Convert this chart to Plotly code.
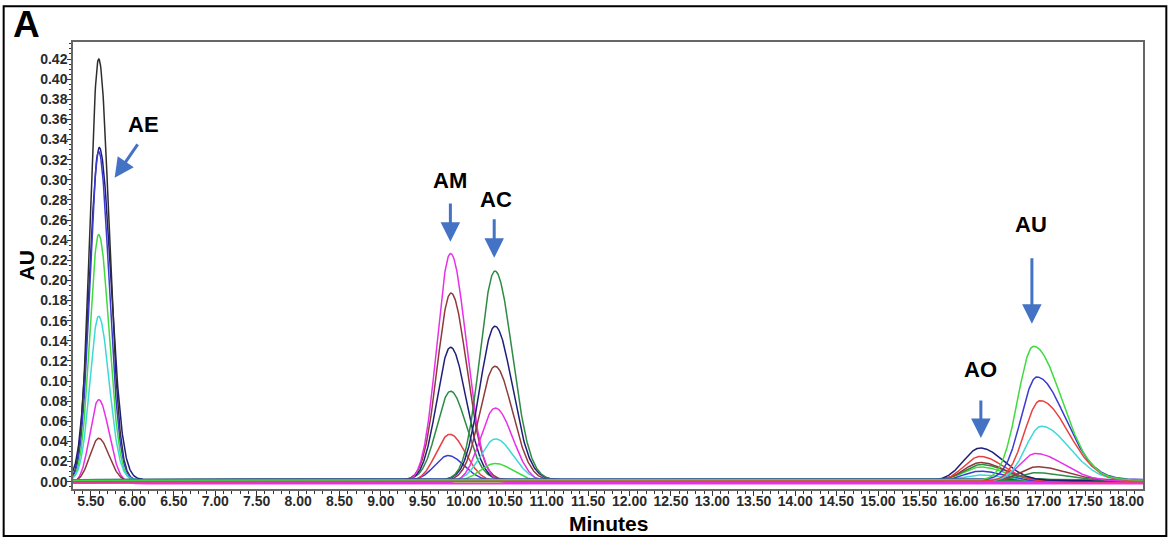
import numpy as np
import plotly.graph_objects as go

# ---- data ----
peak_names = ["AE", "AM", "AC", "AO", "AU"]
sigma_left = [0.105, 0.165, 0.18, 0.20, 0.19]
sigma_right = [0.125, 0.19, 0.21, 0.28, 0.34]

# one trace per injection: colour, peak retention time (min), peak height (AU), baseline (AU)
ae_colors = ["#1f1f7a", "#2e2e2e", "#3b3bd0", "#3fdb3f", "#3fd8d8", "#e830e8", "#8e3b3b"]
ae_rt = [5.60, 5.593, 5.593, 5.593, 5.593, 5.593, 5.593]
ae_heights = [0.330, 0.419, 0.3265, 0.245, 0.1625, 0.0835, 0.0431]
ae_base = [0.002, 0.001, 0.0015, 0.0005, 0.002, -0.002, 0.0]

am_colors = ["#3b3bd0", "#e84040", "#2e8b45", "#1f1f7a", "#8e3b3b", "#e830e8"]
am_rt = [9.812, 9.83, 9.84, 9.84, 9.845, 9.84]
am_heights = [0.0249, 0.0471, 0.0879, 0.1326, 0.186, 0.2277]
am_base = [0.001, 0.0, 0.002, 0.001, 0.0015, -0.001]

ac_colors = ["#3fdb3f", "#3fd8d8", "#e830e8", "#8e3b3b", "#1f1f7a", "#2e8b45"]
ac_rt = [10.38, 10.385, 10.38, 10.376, 10.376, 10.376]
ac_heights = [0.0176, 0.0415, 0.0746, 0.1137, 0.1525, 0.2078]
ac_base = [0.0005, 0.001, -0.0015, 0.001, 0.002, 0.0015]

ao_colors = ["#3fd8d8", "#3b3bd0", "#3fdb3f", "#2e8b45", "#8e3b3b", "#e84040", "#1f1f7a"]
ao_rt = [16.24, 16.23, 16.24, 16.25, 16.24, 16.233, 16.233]
ao_heights = [0.0057, 0.010, 0.013, 0.015, 0.018, 0.025, 0.0325]
ao_base = [0.001, 0.0005, 0.0015, 0.002, 0.001, 0.0, 0.001]

au_colors = ["#2e8b45", "#8e3b3b", "#e830e8", "#3fd8d8", "#e84040", "#3b3bd0", "#3fdb3f"]
au_rt = [16.90, 16.92, 16.90, 16.97, 16.957, 16.917, 16.876]
au_heights = [0.008, 0.0133, 0.0275, 0.054, 0.080, 0.102, 0.133]
au_base = [0.001, 0.0015, 0.0005, 0.001, 0.0005, 0.002, 0.0015]

x_ticks = [5.5 + 0.5 * i for i in range(26)]
y_ticks = [round(0.02 * i, 2) for i in range(22)]

# label positions / arrows (annotation layout)
label_pos = {"AE": (6.130, 0.3553), "AM": (9.832, 0.2995), "AC": (10.388, 0.2801),
             "AO": (16.233, 0.1111), "AU": (16.849, 0.2552)}
arrow_head = {"AE": (5.786, 0.302), "AM": (9.838, 0.2383), "AC": (10.367, 0.2224),
              "AO": (16.241, 0.0435), "AU": (16.857, 0.1568)}
arrow_tail = {"AE": (6.076, 0.3366), "AM": (9.838, 0.278), "AC": (10.367, 0.2622),
              "AO": (16.241, 0.0822), "AU": (16.857, 0.2234)}

groups = [(ae_colors, ae_rt, ae_heights, ae_base), (am_colors, am_rt, am_heights, am_base),
          (ac_colors, ac_rt, ac_heights, ac_base), (ao_colors, ao_rt, ao_heights, ao_base),
          (au_colors, au_rt, au_heights, au_base)]

t = np.arange(5.28, 18.201, 0.005)

fig = go.Figure()
for gi, (cols, rts, hs, bases) in enumerate(groups):
    sl, sr = sigma_left[gi], sigma_right[gi]
    for col, rt, h, b in zip(cols, rts, hs, bases):
        s = np.where(t < rt, sl, sr)
        if gi == 0 and col == "#1f1f7a":
            s = s * 1.12
        y = b + h * np.exp(-0.5 * ((t - rt) / s) ** 2)
        fig.add_trace(go.Scatter(x=t, y=y, mode="lines", name=peak_names[gi],
                                 line=dict(color=col, width=1.5), showlegend=False))

FONT = "Liberation Sans"
ann = []
for n in peak_names:
    lx, ly = label_pos[n]
    ann.append(dict(x=lx, y=ly, xref="x", yref="y", text=n, showarrow=False,
                    font=dict(family=FONT, size=22, color="black", weight="bold"),
                    xanchor="center", yanchor="middle"))
    hx, hy = arrow_head[n]
    tx, ty = arrow_tail[n]
    ann.append(dict(x=hx, y=hy, ax=tx, ay=ty, xref="x", yref="y", axref="x", ayref="y",
                    text="", showarrow=True, arrowhead=2, arrowsize=1.3, arrowwidth=3,
                    arrowcolor="#4472c4", standoff=0))
ann.append(dict(x=-0.0436, y=1.0387, xref="paper", yref="paper", text="A", showarrow=False,
                font=dict(family=FONT, size=37, color="black", weight="bold"),
                xanchor="center", yanchor="middle"))
ann.append(dict(x=0.5, y=-0.078, xref="paper", yref="paper", text="Minutes", showarrow=False,
                font=dict(family=FONT, size=21, color="black", weight="bold"),
                xanchor="center", yanchor="middle"))
ann.append(dict(x=-0.0435, y=0.501, xref="paper", yref="paper", text="AU", showarrow=False,
                textangle=-90, font=dict(family=FONT, size=21, color="black", weight="bold"),
                xanchor="center", yanchor="middle"))

fig.update_layout(
    width=1168, height=538,
    margin=dict(l=73, r=25, t=42, b=49),
    paper_bgcolor="white", plot_bgcolor="white",
    annotations=ann,
    shapes=[dict(type="rect", xref="paper", yref="paper", x0=-0.0648, x1=1.0218,
                 y0=-0.1052, y1=1.0801, line=dict(color="black", width=2))],
    xaxis=dict(range=[5.283, 18.198], tickvals=x_ticks, ticktext=[f"{v:.2f}" for v in x_ticks],
               ticks="outside", ticklen=5, tickcolor="#333", showgrid=False, zeroline=False,
               showline=True, mirror=True, linecolor="#666", linewidth=1.5,
               ticklabelstandoff=-7,
               tickfont=dict(family=FONT, size=14, color="#2a2a2a", weight="bold"),
               minor=dict(dtick=0.1, tick0=5.5, ticks="outside", ticklen=3, tickcolor="#333")),
    yaxis=dict(range=[-0.0073, 0.4369], tickvals=y_ticks, ticktext=[f"{v:.2f}" for v in y_ticks],
               ticks="outside", ticklen=4, tickcolor="#333", showgrid=False, zeroline=False,
               showline=True, mirror=True, linecolor="#666", linewidth=1.5,
               ticklabelstandoff=-3,
               tickfont=dict(family=FONT, size=14, color="#2a2a2a", weight="bold"),
               minor=dict(dtick=0.005, tick0=0, ticks="outside", ticklen=2, tickcolor="#333")),
)

fig.write_html("out.html")
